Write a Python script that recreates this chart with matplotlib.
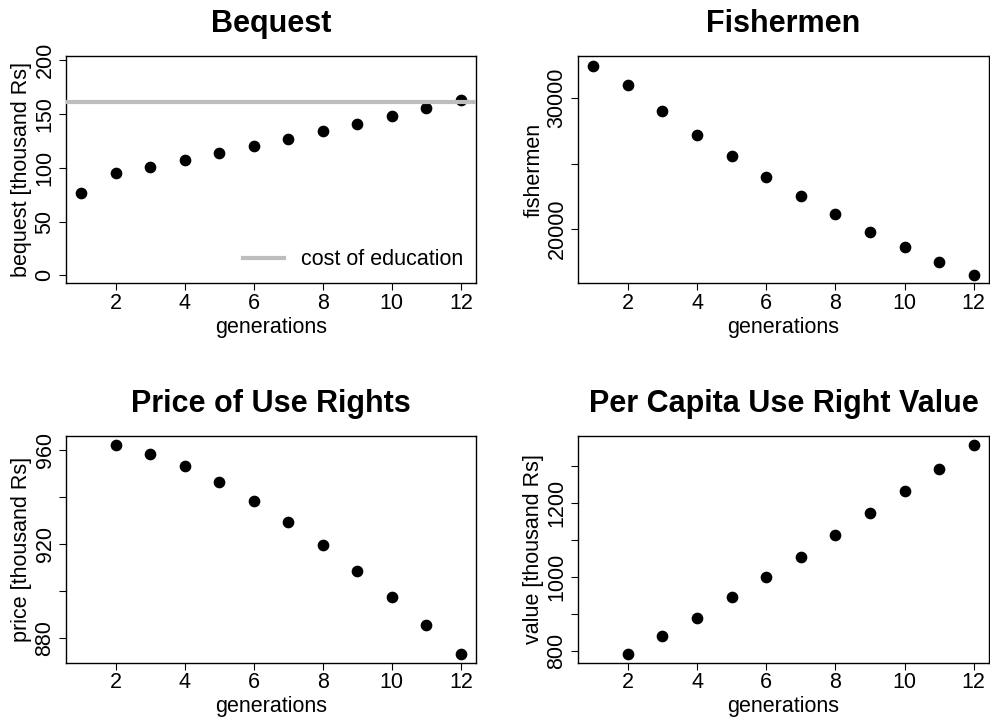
import matplotlib
matplotlib.use("Agg")
import matplotlib.pyplot as plt

plt.rcParams['font.family'] = ['Liberation Sans', 'DejaVu Sans']

generations = list(range(1, 13))
bequest = [76.7, 95.0, 101.0, 107.0, 113.7, 119.8, 126.7, 134.2, 140.7, 148.2, 155.6, 162.7]
cost_of_education = 161.5
fishermen = [32500, 31020, 29050, 27210, 25550, 23965, 22480, 21100, 19770, 18620, 17450, 16480]
price_gens = list(range(2, 13))
price = [961.9, 958.0, 953.1, 946.1, 938.3, 929.2, 919.3, 908.4, 897.2, 885.3, 873.1]
value_gens = list(range(2, 13))
value = [792, 841, 890.8, 946, 1000.8, 1055.7, 1114.3, 1173, 1233, 1293.5, 1356.8]

x_ticks = [2, 4, 6, 8, 10, 12]

fig = plt.figure(figsize=(9.9, 7.2), dpi=100)

W, H = 990, 720
def rect(l, t, r, b):
    return [l / W, 1 - b / H, (r - l) / W, (b - t) / H]

TICK_FS = 15.5
TITLE_FS = 22

def style(ax, yticks, ylabels, ylabel, title):
    ax.set_xlim(0.56, 12.44)
    ax.set_xticks(x_ticks)
    ax.set_xticklabels([str(t) for t in x_ticks], fontsize=TICK_FS)
    ax.set_yticks(yticks)
    ax.set_yticklabels(ylabels, fontsize=TICK_FS, rotation=90, va='center')
    ax.tick_params(direction='out', length=5, width=0.8, color='black', pad=2)
    ax.tick_params(axis='y', pad=2.5)
    for s in ax.spines.values():
        s.set_linewidth(1.0)
        s.set_color('black')
    ax.set_xlabel('generations', fontsize=TICK_FS, labelpad=2)
    ax.set_ylabel(ylabel, fontsize=TICK_FS, labelpad=1.5)
    ax.set_title(title, fontsize=TITLE_FS, fontweight='bold', pad=17)

mk = dict(marker='o', linestyle='none', color='black', markersize=7.4, zorder=3)

# Panel 1: Bequest
ax1 = fig.add_axes(rect(66, 56, 476, 283.3))
ax1.plot(generations, bequest, **mk)
ax1.axhline(cost_of_education, color='#BEBEBE', lw=3, zorder=4, label='cost of education')
ax1.set_ylim(-7.5, 204)
style(ax1, [0, 50, 100, 150, 200], ['0', '50', '100', '150', '200'],
      'bequest [thousand Rs]', 'Bequest')
leg = ax1.legend(loc='lower right', frameon=False, fontsize=TICK_FS,
                 handlelength=1.9, handletextpad=0.8, borderaxespad=0.2)

# Panel 2: Fishermen
ax2 = fig.add_axes(rect(578, 56, 989, 283.3))
ax2.plot(generations, fishermen, **mk)
ax2.set_ylim(15813, 33244)
style(ax2, [20000, 25000, 30000], ['20000', '', '30000'], 'fishermen', 'Fishermen')

# Panel 3: Price of Use Rights
ax3 = fig.add_axes(rect(66, 436, 476, 662.7))
ax3.plot(price_gens, price, **mk)
ax3.set_ylim(869.4, 965.8)
style(ax3, [880, 900, 920, 940, 960], ['880', '', '920', '', '960'],
      'price [thousand Rs]', 'Price of Use Rights')

# Panel 4: Per Capita Use Right Value
ax4 = fig.add_axes(rect(578, 436, 989, 662.7))
ax4.plot(value_gens, value, **mk)
ax4.set_ylim(769, 1382)
style(ax4, [800, 900, 1000, 1100, 1200, 1300], ['800', '', '1000', '', '1200', ''],
      'value [thousand Rs]', 'Per Capita Use Right Value')

fig.savefig('out.png', dpi=100)
